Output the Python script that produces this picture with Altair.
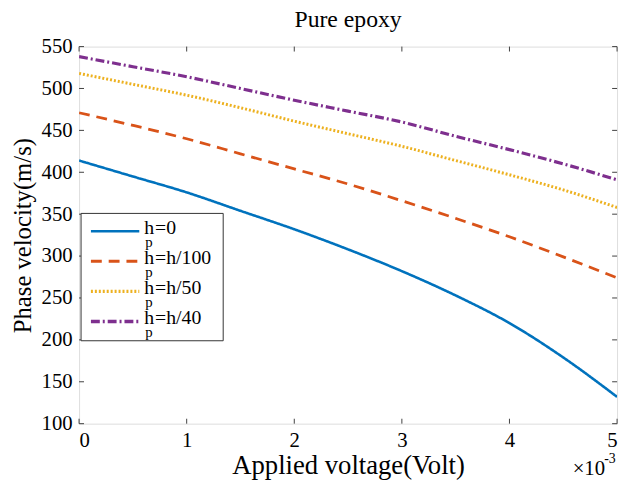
import altair as alt
import pandas as pd

# Applied voltage (x10^-3 Volt)
voltage = [0, 0.5, 1, 1.5, 2, 2.5, 3, 3.5, 4, 4.5, 5]
series = ["hp=0", "hp=h/100", "hp=h/50", "hp=h/40"]
v_h0 = [414, 395, 376, 354, 332, 308, 282, 253, 220, 179, 132]
v_h100 = [471, 456, 440, 422, 404, 386, 366, 345, 323, 299, 274]
v_h50 = [518, 505, 492, 477, 461, 446, 431, 414, 397, 379, 358]
v_h40 = [538, 526, 514, 500, 486, 473, 460, 443, 427, 410, 391]
x_ticks = [0, 1, 2, 3, 4, 5]
y_ticks = [100, 150, 200, 250, 300, 350, 400, 450, 500, 550]

colors = ["#0072BD", "#D95319", "#EDB120", "#7E2F8E"]
dashes = [[1, 0], [11, 7], [2, 2], [9, 3, 2, 3]]
widths = [2.6, 3.2, 3.2, 3.6]
leg_sub = ["=0", "=h/100", "=h/50", "=h/40"]

rows = []
for name, vals in zip(series, [v_h0, v_h100, v_h50, v_h40]):
    for x, v in zip(voltage, vals):
        rows.append({"V": x, "c": v, "s": name})
df = pd.DataFrame(rows)

W, H = 545, 382
FONT = "Liberation Serif"

xs = alt.Scale(domain=[0, 5], nice=False, zero=False)
ys = alt.Scale(domain=[100, 550], nice=False, zero=False)

lines = alt.Chart(df).mark_line(clip=True, interpolate="monotone").encode(
    x=alt.X("V:Q", scale=xs,
            axis=alt.Axis(values=x_ticks, format="d", title="Applied voltage(Volt)",
                          ticks=False, domain=False, grid=False, labelPadding=6,
                          titlePadding=2, labelFontSize=21, titleFontSize=27,
                          labelFont=FONT, titleFont=FONT, labelColor="black",
                          titleColor="black", titleFontWeight="normal")),
    y=alt.Y("c:Q", scale=ys,
            axis=alt.Axis(values=y_ticks, title="Phase velocity(m/s)", ticks=False,
                          domain=False, grid=False, labelPadding=7, titlePadding=6,
                          labelFontSize=21, titleFontSize=25, labelFont=FONT,
                          titleFont=FONT, labelColor="black", titleColor="black",
                          titleFontWeight="normal")),
    color=alt.Color("s:N", scale=alt.Scale(domain=series, range=colors), legend=None),
    strokeDash=alt.StrokeDash("s:N", scale=alt.Scale(domain=series, range=dashes), legend=None),
    strokeWidth=alt.StrokeWidth("s:N", scale=alt.Scale(domain=series, range=widths), legend=None),
)

xt = pd.DataFrame({"t": x_ticks})
yt = pd.DataFrame({"t": y_ticks})
TC = "#404040"
tick_b = alt.Chart(xt).mark_rule(color=TC, strokeWidth=1).encode(
    x=alt.X("t:Q", scale=xs), y=alt.value(H), y2=alt.value(H - 5))
tick_t = alt.Chart(xt).mark_rule(color=TC, strokeWidth=1).encode(
    x=alt.X("t:Q", scale=xs), y=alt.value(0), y2=alt.value(5))
tick_l = alt.Chart(yt).mark_rule(color=TC, strokeWidth=1).encode(
    y=alt.Y("t:Q", scale=ys), x=alt.value(0), x2=alt.value(5))
tick_r = alt.Chart(yt).mark_rule(color=TC, strokeWidth=1).encode(
    y=alt.Y("t:Q", scale=ys), x=alt.value(W), x2=alt.value(W - 5))

one = pd.DataFrame({"a": [0]})
layers = [lines, tick_b, tick_t, tick_l, tick_r]

# legend box
layers.append(alt.Chart(one).mark_rect(fill="white", stroke="#333333", strokeWidth=1).encode(
    x=alt.value(2), x2=alt.value(146), y=alt.value(169), y2=alt.value(298)))
for i in range(4):
    yy = 187 + 30.5 * i
    layers.append(alt.Chart(one).mark_rule(color=colors[i], strokeWidth=widths[i],
                                           strokeDash=dashes[i]).encode(
        x=alt.value(12), x2=alt.value(61), y=alt.value(yy)))
    layers.append(alt.Chart(one).mark_text(align="left", baseline="middle", font=FONT,
                                           fontSize=20, color="black").encode(
        x=alt.value(66), y=alt.value(yy - 3), text=alt.value("h")))
    layers.append(alt.Chart(one).mark_text(align="left", baseline="middle", font=FONT,
                                           fontSize=15, color="black").encode(
        x=alt.value(67), y=alt.value(yy + 11), text=alt.value("p")))
    layers.append(alt.Chart(one).mark_text(align="left", baseline="middle", font=FONT,
                                           fontSize=20, color="black").encode(
        x=alt.value(77), y=alt.value(yy - 3), text=alt.value(leg_sub[i])))

# x10^-3 exponent
layers.append(alt.Chart(one).mark_text(align="left", baseline="middle", font=FONT,
                                       fontSize=21, color="black").encode(
    x=alt.value(500), y=alt.value(H + 46), text=alt.value("×10")))
layers.append(alt.Chart(one).mark_text(align="left", baseline="middle", font=FONT,
                                       fontSize=14, color="black").encode(
    x=alt.value(532), y=alt.value(H + 36), text=alt.value("-3")))

chart = alt.layer(*layers).properties(
    width=W, height=H,
    title=alt.TitleParams("Pure epoxy", font=FONT, fontSize=24, fontWeight="normal",
                          color="black", offset=4),
    autosize=alt.AutoSizeParams(type="none"),
    padding={"left": 72, "top": 36, "right": 5, "bottom": 56},
).configure_view(stroke=TC, strokeWidth=1.2).configure(background="white")

chart.save("out.html", embed_options={"renderer": "svg", "actions": False})
